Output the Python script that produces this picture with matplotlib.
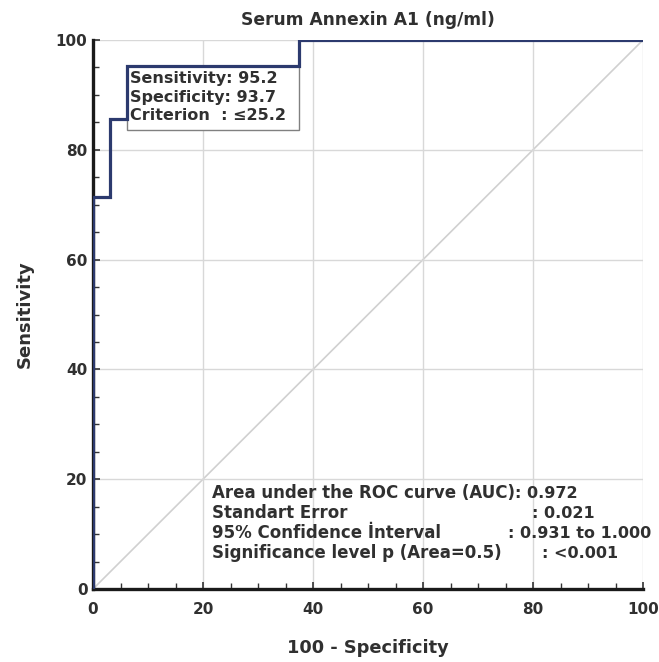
import matplotlib
matplotlib.use("Agg")
import matplotlib.pyplot as plt
from matplotlib.ticker import MultipleLocator
from matplotlib.patches import Rectangle

# Data
fpr = [0, 0, 3.125, 3.125, 6.25, 6.25, 37.5, 37.5, 100]
tpr = [0, 71.4, 71.4, 85.7, 85.7, 95.2, 95.2, 100, 100]
title = "Serum Annexin A1 (ng/ml)"
opt_lines = ["Sensitivity: 95.2", "Specificity: 93.7", "Criterion  : \u226425.2"]
stat_labels = ["Area under the ROC curve (AUC)", "Standart Error",
               "95% Confidence \u0130nterval", "Significance level p (Area=0.5)"]
stat_values = [": 0.972", ": 0.021", ": 0.931 to 1.000", ": <0.001"]

plt.rcParams['font.family'] = ['DejaVu Sans']
fig = plt.figure(figsize=(6.59, 6.62), dpi=100)
ax = fig.add_axes([93/659, 1-589/662, 550/659, 549/662])

txtc = '#303030'
ax.plot([0, 100], [0, 100], color='#d0d0d0', lw=1.2, zorder=1)
ax.plot(fpr, tpr, color='#2c3a6e', lw=2.3, zorder=5, solid_joinstyle='miter')

ax.set_xlim(0, 100)
ax.set_ylim(0, 100)
ax.xaxis.set_major_locator(MultipleLocator(20))
ax.yaxis.set_major_locator(MultipleLocator(20))
ax.xaxis.set_minor_locator(MultipleLocator(5))
ax.yaxis.set_minor_locator(MultipleLocator(5))
ax.grid(True, which='major', color='#d8d8d8', lw=1.0, zorder=0)
for s in ['top', 'right']:
    ax.spines[s].set_visible(False)
for s in ['left', 'bottom']:
    ax.spines[s].set_linewidth(2.4)
    ax.spines[s].set_color('#1a1a1a')
ax.tick_params(which='both', direction='in', color='#333333')
ax.tick_params(which='major', length=5, width=1.2)
ax.tick_params(which='minor', length=4, width=1.0)
ax.tick_params(axis='x', pad=9)
ax.tick_params(axis='y', pad=4)
for lab in ax.get_xticklabels() + ax.get_yticklabels():
    lab.set_fontsize(11)
    lab.set_fontweight('bold')
    lab.set_color(txtc)

ax.set_title(title, fontsize=12.3, color=txtc, pad=11, fontweight='bold')
ax.set_xlabel("100 - Specificity", fontsize=12.8, color=txtc, labelpad=16, fontweight='bold')
ax.set_ylabel("Sensitivity", fontsize=13, color=txtc, labelpad=16, fontweight='bold')

# Optimal criterion box (spans from the curve's step corners)
box_bottom = 83.6
ax.add_patch(Rectangle((fpr[4], box_bottom), fpr[6] - fpr[4], tpr[5] - box_bottom,
                       facecolor='white', edgecolor='#808080', lw=1.0, zorder=4))
ax.text(fpr[4] + 0.4, tpr[5] - 0.9, "\n".join(opt_lines), ha='left', va='top', fontsize=11.5,
        fontweight='bold', color=txtc, linespacing=1.3, zorder=4.5)

xl = (212 - 93) / 5.5
xv = [None, (532 - 93) / 5.5, (508 - 93) / 5.5, (542 - 93) / 5.5]
ys = [(589 - 493) / 5.49, (589 - 513) / 5.49, (589 - 533) / 5.49, (589 - 553) / 5.49]
for lab, val, x2, y in zip(stat_labels, stat_values, xv, ys):
    t = ax.text(xl, y, lab, ha='left', va='center', fontsize=12, fontweight='bold', color=txtc, zorder=6)
    if x2 is None:
        ax.annotate(val, xy=(1, 0.5), xycoords=t, xytext=(0, 0), textcoords='offset points',
                    ha='left', va='center', fontsize=11.5, fontweight='bold', color=txtc, zorder=6)
    else:
        ax.text(x2, y, val, ha='left', va='center', fontsize=11.5, fontweight='bold', color=txtc, zorder=6)

fig.savefig("out.png", dpi=100)
